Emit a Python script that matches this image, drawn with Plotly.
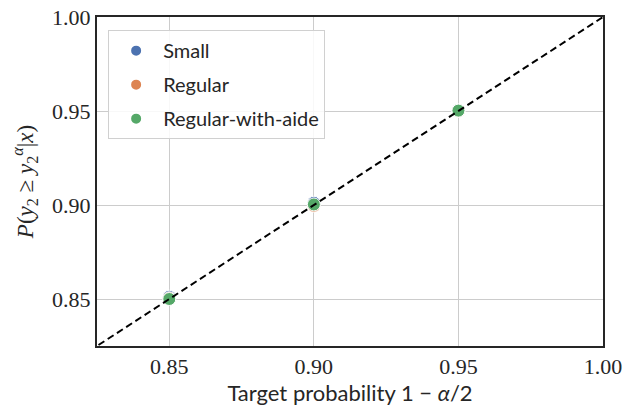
import plotly.graph_objects as go

targets = [0.85, 0.90, 0.95]
small = [0.8512, 0.9012, 0.9503]
regular = [0.8504, 0.8996, 0.9500]
regular_aide = [0.8500, 0.9003, 0.9502]
series_names = ["Small", "Regular", "Regular-with-aide"]
series_colors = ["#4C72B0", "#DD8452", "#55A868"]
tick_vals = [0.85, 0.90, 0.95, 1.00]
tick_text = ["0.85", "0.90", "0.95", "1.00"]

fig = go.Figure()
for name, vals, col in zip(series_names, [small, regular, regular_aide], series_colors):
    fig.add_trace(go.Scatter(
        x=targets, y=vals, mode="markers", name=name, legendgroup=name,
        marker=dict(color=col, size=13, line=dict(color="white", width=1)),
    ))

fig.add_trace(go.Scatter(
    x=[0.8, 1.0], y=[0.8, 1.0], mode="lines", showlegend=False,
    line=dict(color="black", width=2, dash="7px,4px"), cliponaxis=True,
))

axis_common = dict(
    range=[0.825, 1.0], tickvals=tick_vals, ticktext=tick_text,
    showgrid=True, gridcolor="#cccccc", gridwidth=1,
    showline=True, linecolor="#262626", linewidth=2, mirror=True,
    zeroline=False, ticks="", automargin=False, ticklabeloverflow="allow",
    tickfont=dict(family="Liberation Serif", size=22, color="#262626"),
)

fig.update_layout(
    width=625, height=409,
    margin=dict(l=97, r=22, t=17, b=63),
    plot_bgcolor="white", paper_bgcolor="white",
    xaxis=dict(**axis_common,
               title=dict(text="Target probability 1 − <i>α</i>/2",
                          font=dict(family="Lato", size=22, color="#262626"),
                          standoff=4)),
    yaxis=dict(**axis_common,
               title=dict(text="<i>P</i>(<i>y</i><sub>2</sub> ≥ <i>y</i><sub>2</sub><sup><i>α</i></sup>|<i>x</i>)",
                          font=dict(family="Liberation Serif", size=23, color="#262626"),
                          standoff=12)),
    legend=dict(x=0.022, y=0.96, xanchor="left", yanchor="top",
                bgcolor="rgba(255,255,255,0.85)", bordercolor="#d0d0d0", borderwidth=1,
                font=dict(family="Lato", size=20, color="#262626"),
                itemsizing="constant", itemwidth=44, tracegroupgap=5),
    showlegend=True,
)

fig.write_html("out.html", config={"displayModeBar": False},
               post_script="document.body.style.margin='0';document.body.style.overflow='hidden';")
